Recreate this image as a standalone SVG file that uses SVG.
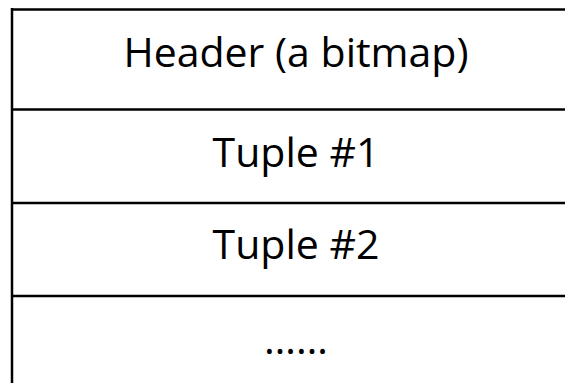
<svg xmlns="http://www.w3.org/2000/svg" width="565" height="383" viewBox="0 0 565 383">
  <style>
    .rule { stroke: #000; stroke-width: 2.5; fill: none; }
    .label { font-family: "Open Sans", "DejaVu Sans", sans-serif; font-size: 41px; fill: #000; text-anchor: middle; }
  </style>
  <rect width="565" height="383" fill="#fff"/>
  <!-- table frame: left edge and row separators (open on the right and bottom) -->
  <g id="frame">
    <line class="rule" x1="12" y1="8" x2="12" y2="383"/>
    <line class="rule" x1="11" y1="9.5" x2="565" y2="9.5"/>
    <line class="rule" x1="11" y1="109.5" x2="565" y2="109.5"/>
    <line class="rule" x1="11" y1="203" x2="565" y2="203"/>
    <line class="rule" x1="11" y1="296" x2="565" y2="296"/>
  </g>
  <g id="header">
    <text class="label" x="296" y="67">Header (a bitmap)</text>
  </g>
  <g id="tuple1">
    <text class="label" x="296" y="167">Tuple #1</text>
  </g>
  <g id="tuple2">
    <text class="label" x="296" y="259">Tuple #2</text>
  </g>
  <g id="more">
    <text class="label" x="296" y="354">……</text>
  </g>
</svg>
